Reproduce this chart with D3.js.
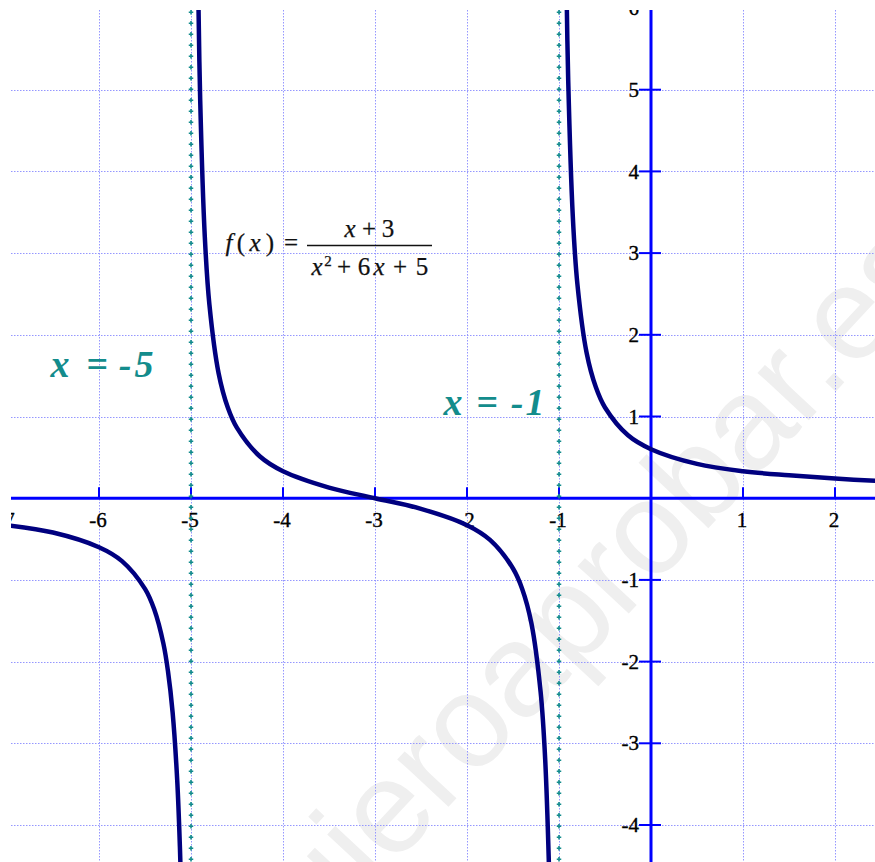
<!DOCTYPE html>
<html>
<head>
<meta charset="utf-8">
<script src="https://cdn.jsdelivr.net/npm/d3@7"></script>
<style>
  html, body { margin: 0; padding: 0; background: #fff; }
  svg { display: block; }
</style>
</head>
<body>
<div id="chart"></div>
<script>
// Ticks de los ejes
const xTicks = [-7, -6, -5, -4, -3, -2, -1, 0, 1, 2];
const yTicks = [-4, -3, -2, -1, 0, 1, 2, 3, 4, 5, 6];
// Asíntotas verticales
const asymptotes = [-5, -1];
const asymptoteLabels = ["x = -5", "x = -1"];

// Ramas de f(x) = (x+3)/(x^2+6x+5)
const branchLeft = [
  [-7.1, -0.32], [-7, -0.33], [-6.5, -0.42], [-6, -0.6], [-5.75, -0.77],
  [-5.5, -1.11], [-5.4, -1.36], [-5.3, -1.78], [-5.25, -2.12], [-5.2, -2.62],
  [-5.15, -3.45], [-5.12, -4.29], [-5.1, -5.12]
];
const branchMiddle = [
  [-4.92, 6.12], [-4.9, 4.87], [-4.85, 3.2], [-4.8, 2.37], [-4.7, 1.53],
  [-4.6, 1.11], [-4.5, 0.86], [-4.25, 0.51], [-4, 0.33], [-3.5, 0.13],
  [-3, 0], [-2.5, -0.13], [-2, -0.33], [-1.75, -0.51], [-1.5, -0.86],
  [-1.4, -1.11], [-1.3, -1.53], [-1.2, -2.37], [-1.15, -3.2], [-1.1, -4.87]
];
const branchRight = [
  [-0.92, 6.37], [-0.9, 5.12], [-0.85, 3.45], [-0.8, 2.62], [-0.7, 1.78],
  [-0.6, 1.36], [-0.5, 1.11], [-0.25, 0.77], [0, 0.6], [0.5, 0.42],
  [1, 0.33], [1.5, 0.28], [2, 0.24], [2.5, 0.21]
];

const width = 875;
const height = 862;
const plot = { left: 11, top: 10, right: 875, bottom: 862 };

const svg = d3.select("#chart").append("svg")
  .attr("width", width)
  .attr("height", height)
  .attr("viewBox", `0 0 ${width} ${height}`)
  .style("background", "#fff");

const x = d3.scaleLinear().domain([-7, 2]).range([7, 835]);
const y = d3.scaleLinear().domain([-4, 6]).range([825, 8]);

const defs = svg.append("defs");
defs.append("clipPath")
  .attr("id", "plot-clip")
  .append("rect")
  .attr("x", plot.left)
  .attr("y", plot.top)
  .attr("width", plot.right - plot.left)
  .attr("height", plot.bottom - plot.top);

// marca de agua
svg.append("text")
  .attr("transform", "translate(272,996) rotate(-47)")
  .attr("font-family", "Liberation Sans, Arial, sans-serif")
  .attr("font-size", 132)
  .attr("fill", "#efefef")
  .text("quieroaprobar.es");

const g = svg.append("g").attr("clip-path", "url(#plot-clip)");

// ==================================================
// Rejilla
// ==================================================
const grid = g.append("g")
  .attr("stroke", "#9597ff")
  .attr("stroke-width", 1)
  .attr("stroke-dasharray", "1.5,1.5");

grid.selectAll(".vgrid")
  .data(xTicks.filter(d => d !== 0))
  .join("line")
  .attr("class", "vgrid")
  .attr("x1", d => Math.round(x(d)) + 0.5)
  .attr("x2", d => Math.round(x(d)) + 0.5)
  .attr("y1", plot.top)
  .attr("y2", plot.bottom);

grid.selectAll(".hgrid")
  .data(yTicks.filter(d => d !== 0))
  .join("line")
  .attr("class", "hgrid")
  .attr("y1", d => Math.round(y(d)) + 0.5)
  .attr("y2", d => Math.round(y(d)) + 0.5)
  .attr("x1", plot.left)
  .attr("x2", plot.right);

// ==================================================
// Ejes
// ==================================================
const axisColor = "#0000ff";
const x0 = x(0), y0 = y(0);

g.append("line")
  .attr("x1", plot.left).attr("x2", plot.right)
  .attr("y1", y0).attr("y2", y0)
  .attr("stroke", axisColor).attr("stroke-width", 3);

g.append("line")
  .attr("x1", x0).attr("x2", x0)
  .attr("y1", plot.top).attr("y2", plot.bottom)
  .attr("stroke", axisColor).attr("stroke-width", 3);

g.selectAll(".xtick")
  .data(xTicks.filter(d => d !== 0))
  .join("line")
  .attr("class", "xtick")
  .attr("x1", d => x(d)).attr("x2", d => x(d))
  .attr("y1", y0 - 11).attr("y2", y0)
  .attr("stroke", axisColor).attr("stroke-width", 2);

g.selectAll(".ytick")
  .data(yTicks.filter(d => d !== 0))
  .join("line")
  .attr("class", "ytick")
  .attr("y1", d => y(d)).attr("y2", d => y(d))
  .attr("x1", x0 - 12).attr("x2", x0 + 10)
  .attr("stroke", axisColor).attr("stroke-width", 2);

const serif = "'Liberation Serif', 'Times New Roman', serif";

g.selectAll(".xlabel")
  .data(xTicks.filter(d => d !== 0))
  .join("text")
  .attr("class", "xlabel")
  .attr("x", d => x(d) - 1)
  .attr("y", y0 + 29)
  .attr("text-anchor", "middle")
  .attr("font-family", serif)
  .attr("font-size", 21)
  .attr("fill", "#000")
  .attr("stroke", "#000")
  .attr("stroke-width", 0.35)
  .text(d => d);

g.selectAll(".ylabel")
  .data(yTicks.filter(d => d !== 0))
  .join("text")
  .attr("class", "ylabel")
  .attr("x", x0 - 12)
  .attr("y", d => y(d))
  .attr("dy", "0.34em")
  .attr("text-anchor", "end")
  .attr("font-family", serif)
  .attr("font-size", 21)
  .attr("fill", "#000")
  .attr("stroke", "#000")
  .attr("stroke-width", 0.35)
  .text(d => d);

// ==================================================
// Asíntotas (línea de cruces punteada)
// ==================================================
const teal = "#138c8c";
const asym = g.append("g");
asym.selectAll(".asym-v")
  .data(asymptotes)
  .join("line")
  .attr("x1", d => x(d)).attr("x2", d => x(d))
  .attr("y1", plot.top).attr("y2", plot.bottom)
  .attr("stroke", teal)
  .attr("stroke-width", 1.6)
  .attr("stroke-dasharray", "4.5,6.5");
asym.selectAll(".asym-h")
  .data(asymptotes)
  .join("line")
  .attr("x1", d => x(d)).attr("x2", d => x(d))
  .attr("y1", plot.top).attr("y2", plot.bottom)
  .attr("stroke", teal)
  .attr("stroke-width", 4.5)
  .attr("stroke-dasharray", "1.6,9.4")
  .attr("stroke-dashoffset", -1.45);

// ==================================================
// Curva
// ==================================================
const line = d3.line()
  .x(p => x(p[0]))
  .y(p => y(p[1]))
  .curve(d3.curveCatmullRom.alpha(0.5));

g.selectAll(".branch")
  .data([branchLeft, branchMiddle, branchRight])
  .join("path")
  .attr("class", "branch")
  .attr("d", line)
  .attr("fill", "none")
  .attr("stroke", "#00007f")
  .attr("stroke-width", 4.5);

// ==================================================
// Rótulos: cada glifo centrado en su sitio
// ==================================================
function glyphs(parent, items, baseline, opts) {
  parent.append("g")
    .selectAll("text")
    .data(items)
    .join("text")
    .attr("x", d => d[1])
    .attr("y", d => baseline + (d[3] || 0))
    .attr("text-anchor", "middle")
    .attr("font-style", d => d[2] ? "italic" : null)
    .attr("font-size", d => d[3] ? opts.supSize : null)
    .text(d => d[0]);
}

const asymLabelX = [
  [60, 97, 125, 144],
  [453, 487, 517, 535]
];
const asymLabelY = [377, 415];
const labels = svg.append("g")
  .attr("font-family", serif)
  .attr("font-style", "italic")
  .attr("font-weight", "bold")
  .attr("font-size", 38)
  .attr("fill", teal);

asymptoteLabels.forEach((lab, i) => {
  const chars = lab.replace(/ /g, "").split("");
  glyphs(labels, chars.map((c, k) => [c, asymLabelX[i][k], true]), asymLabelY[i], {});
});

// fórmula
const formula = svg.append("g")
  .attr("font-family", serif)
  .attr("font-size", 25)
  .attr("fill", "#111")
  .attr("stroke", "#111")
  .attr("stroke-width", 0.25);

glyphs(formula, [
  ["f", 229, true], ["(", 241], ["x", 255, true], [")", 270], ["=", 291]
], 251, {});

formula.append("line")
  .attr("x1", 307).attr("x2", 432)
  .attr("y1", 245.5).attr("y2", 245.5)
  .attr("stroke", "#111").attr("stroke-width", 1.3);

glyphs(formula, [
  ["x", 350, true], ["+", 369], ["3", 388]
], 237, {});

glyphs(formula, [
  ["x", 317, true], ["2", 328, false, -9], ["+", 344], ["6", 364],
  ["x", 379, true], ["+", 400], ["5", 422]
], 275, { supSize: 15 });
</script>
</body>
</html>
